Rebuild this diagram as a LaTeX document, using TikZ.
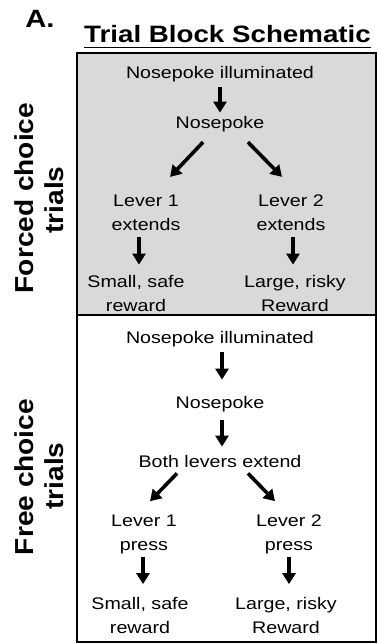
\documentclass[tikz,border=0pt]{standalone}
\usepackage{fontspec}
\setmainfont{Liberation Sans}
\usetikzlibrary{arrows.meta,calc}
\newcommand{\sx}[1]{\scalebox{1.17}[1]{#1}}
\newcommand{\sy}[1]{\scalebox{1.08}[1]{#1}}
\definecolor{boxgray}{RGB}{217,217,217}
\begin{document}
\begin{tikzpicture}[x=1pt,y=-1pt,
  txt/.style={font=\fontsize{16.8}{24}\selectfont, inner sep=0pt, align=center, text=black},
  side/.style={font=\fontsize{26}{30}\selectfont\bfseries, inner sep=0pt, rotate=90, anchor=base},
  arr/.style={line width=3.6pt, -{Triangle[width=13pt,length=11pt]}},
  panel/.style={line width=2pt, draw=black}]
\useasboundingbox (0,0) rectangle (378,644);

% panels
\path[panel, fill=boxgray] (77,53) rectangle (376,315);
\path[panel, fill=white] (77,315) rectangle (376,642);

% heading
\node[font=\fontsize{25}{28}\selectfont\bfseries, inner sep=0pt, anchor=base] (lab) at (40,28) {\sx{A.}};
\node[font=\fontsize{23.7}{28}\selectfont\bfseries, inner sep=0pt, anchor=base] (title) at (227.5,43) {\sx{Trial Block Schematic}};
\draw[line width=1.8pt] ($(title.south west)+(0,4)$) -- ($(title.south east)+(0,4)$);

% side labels
\node[side] (fc1) at (33,198) {\sy{Forced choice}};
\node[side] (fc2) at (63,200) {\sy{trials}};
\node[side] (fr1) at (33,477) {\sy{Free choice}};
\node[side] (fr2) at (63,476) {\sy{trials}};

% forced choice block
\node[txt, anchor=base] (ni1) at (220,79) {\sx{Nosepoke illuminated}};
\node[txt, anchor=base] (np1) at (220,129) {\sx{Nosepoke}};
\node[txt] (l1) at (146,213) {\sx{Lever 1}\\\sx{extends}};
\node[txt] (l2) at (291,213) {\sx{Lever 2}\\\sx{extends}};
\node[txt] (r1) at (136,293) {\sx{Small, safe}\\\sx{reward}};
\node[txt] (r2) at (295,293) {\sx{Large, risky}\\\sx{Reward}};

\draw[arr] ($(ni1.south)+(0,4.5)$) -- ($(np1.north)+(0,-4)$);
\draw[arr] ($(np1.south)+(-17,9.5)$) -- ($(l1.north)+(24,-18)$);
\draw[arr] ($(np1.south)+(28,9.5)$) -- ($(l2.north)+(-9,-18)$);
\draw[arr] ($(l1.south)+(-7,6)$) -- ($(r1.north)+(3,-10)$);
\draw[arr] ($(l2.south)+(2,6)$) -- ($(r2.north)+(-2,-10)$);

% free choice block
\node[txt, anchor=base] (ni2) at (220,343) {\sx{Nosepoke illuminated}};
\node[txt, anchor=base] (np2) at (220,408) {\sx{Nosepoke}};
\node[txt, anchor=base] (both) at (220,467) {\sx{Both levers extend}};
\node[txt] (p1) at (144,534) {\sx{Lever 1}\\\sx{press}};
\node[txt] (p2) at (289,534) {\sx{Lever 2}\\\sx{press}};
\node[txt] (s1) at (140,615.5) {\sx{Small, safe}\\\sx{reward}};
\node[txt] (s2) at (286,615.5) {\sx{Large, risky}\\\sx{Reward}};

\draw[arr] ($(ni2.south)+(2,5.5)$) -- ($(np2.north)+(2,-16)$);
\draw[arr] ($(np2.south)+(2,8.5)$) -- ($(both.north)+(2,-8)$);
\draw[arr] ($(both.south)+(-43,6)$) -- ($(p1.north)+(6,-13)$);
\draw[arr] ($(both.south)+(28,6)$) -- ($(p2.north)+(-14,-13)$);
\draw[arr] ($(p1.south)+(-1,3.5)$) -- ($(s1.north)+(3,-13)$);
\draw[arr] ($(p2.south)+(0,3.5)$) -- ($(s2.north)+(3,-13)$);
\end{tikzpicture}
\end{document}
